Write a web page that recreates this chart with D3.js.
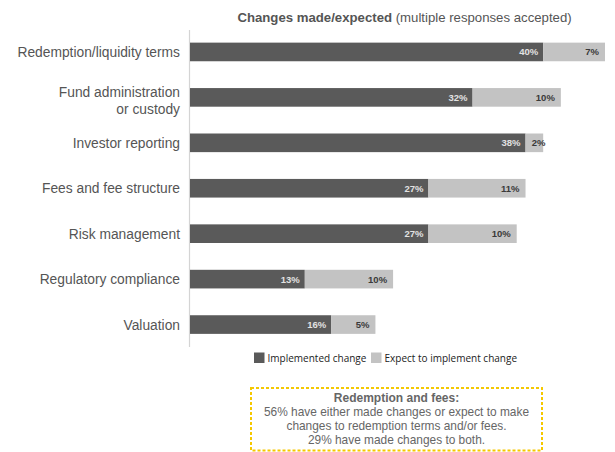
<!DOCTYPE html>
<html>
<head>
<meta charset="utf-8">
<script src="https://cdn.jsdelivr.net/npm/d3@7/dist/d3.min.js"></script>
<style>
  html, body { margin: 0; padding: 0; background: #fff; }
  svg { display: block; }
</style>
</head>
<body>
<svg id="chart" width="615" height="452"></svg>
<script>
// Survey categories and responses (percent of respondents)
const categories = [
  ["Redemption/liquidity terms"],
  ["Fund administration", "or custody"],
  ["Investor reporting"],
  ["Fees and fee structure"],
  ["Risk management"],
  ["Regulatory compliance"],
  ["Valuation"]
];
const implemented = [40, 32, 38, 27, 27, 13, 16];
const expected = [7, 10, 2, 11, 10, 10, 5];
const seriesNames = ["Implemented change", "Expect to implement change"];
const noteLines = [
  "56% have either made changes or expect to make",
  "changes to redemption terms and/or fees.",
  "29% have made changes to both."
];

const svg = d3.select("#chart");
const colors = ["#5a5a5a", "#c3c3c3"];
const font = "Liberation Sans, Arial, sans-serif";

const x = d3.scaleLinear().domain([0, 47]).range([190, 605]);
const y = d3.scaleBand().domain(d3.range(categories.length)).range([29, 347.5]).paddingInner(0.59).paddingOuter(0.3);

// Title
const title = svg.append("text")
  .attr("x", 404.5).attr("y", 22)
  .attr("text-anchor", "middle")
  .attr("font-family", font)
  .attr("font-size", 13.2)
  .attr("fill", "#555");
title.append("tspan").attr("font-weight", "bold").text("Changes made/expected");
title.append("tspan").text(" (multiple responses accepted)");

// Category axis
const yAxis = d3.axisLeft(y).tickSize(0).tickFormat("");
const axisG = svg.append("g").attr("transform", "translate(189.5,0)").call(yAxis);
axisG.select(".domain").attr("stroke", "#d4d4d4").attr("stroke-width", 1.2)
  .attr("d", "M0,30V347");

// Category labels (multi-line labels hang slightly below the bar centre)
const labelG = svg.append("g");
categories.forEach((lines, i) => {
  const cy = y(i) + y.bandwidth() / 2;
  const t = labelG.append("text")
    .attr("text-anchor", "end")
    .attr("font-family", font)
    .attr("font-size", 13.8)
    .attr("fill", "#555");
  const lh = 17;
  const y0 = lines.length > 1 ? cy : cy + 5;
  lines.forEach((ln, k) => {
    t.append("tspan").attr("x", 180).attr("y", y0 + k * lh).text(ln);
  });
});

// Stacked bars
const rows = implemented.map((v, i) => ({ i, a: v, b: expected[i] }));
const barG = svg.append("g");
rows.forEach(r => {
  const by = y(r.i), bh = y.bandwidth();
  barG.append("rect")
    .attr("x", x(0)).attr("y", by)
    .attr("width", x(r.a) - x(0)).attr("height", bh)
    .attr("fill", colors[0]);
  barG.append("rect")
    .attr("x", x(r.a)).attr("y", by)
    .attr("width", x(r.a + r.b) - x(r.a)).attr("height", bh)
    .attr("fill", colors[1]);
  barG.append("text")
    .attr("x", x(r.a) - 5).attr("y", by + bh / 2 + 3.5)
    .attr("text-anchor", "end")
    .attr("font-family", font)
    .attr("font-size", 9.5).attr("font-weight", "bold")
    .attr("fill", "#e2e2e2")
    .text(r.a + "%");
  barG.append("text")
    .attr("x", Math.max(x(r.a + r.b) - 6, x(r.a) + 20)).attr("y", by + bh / 2 + 3.5)
    .attr("text-anchor", "end")
    .attr("font-family", font)
    .attr("font-size", 9.5).attr("font-weight", "bold")
    .attr("fill", "#3a3a3a")
    .text(r.b + "%");
});

// Legend
const legend = svg.append("g");
const legendX = [254, 371];
seriesNames.forEach((name, k) => {
  legend.append("rect")
    .attr("x", legendX[k]).attr("y", 352.5)
    .attr("width", 10.5).attr("height", 10.5)
    .attr("fill", colors[k]);
  legend.append("text")
    .attr("x", legendX[k] + 13.5).attr("y", 361.5)
    .attr("font-family", "Open Sans, sans-serif")
    .attr("font-size", 10)
    .attr("fill", "#222")
    .text(name);
});

// Note box
svg.append("rect")
  .attr("x", 251).attr("y", 388)
  .attr("width", 291).attr("height", 62.5)
  .attr("fill", "none")
  .attr("stroke", "#f5c800")
  .attr("stroke-width", 2)
  .attr("stroke-dasharray", "3,2");
svg.append("text")
  .attr("x", 396.5).attr("y", 402)
  .attr("text-anchor", "middle")
  .attr("font-family", font)
  .attr("font-size", 12).attr("font-weight", "bold")
  .attr("fill", "#666")
  .text("Redemption and fees:");
noteLines.forEach((ln, k) => {
  svg.append("text")
    .attr("x", 396.5).attr("y", 415.5 + k * 14)
    .attr("text-anchor", "middle")
    .attr("font-family", font)
    .attr("font-size", 11.9)
    .attr("fill", "#666")
    .text(ln);
});
</script>
</body>
</html>
